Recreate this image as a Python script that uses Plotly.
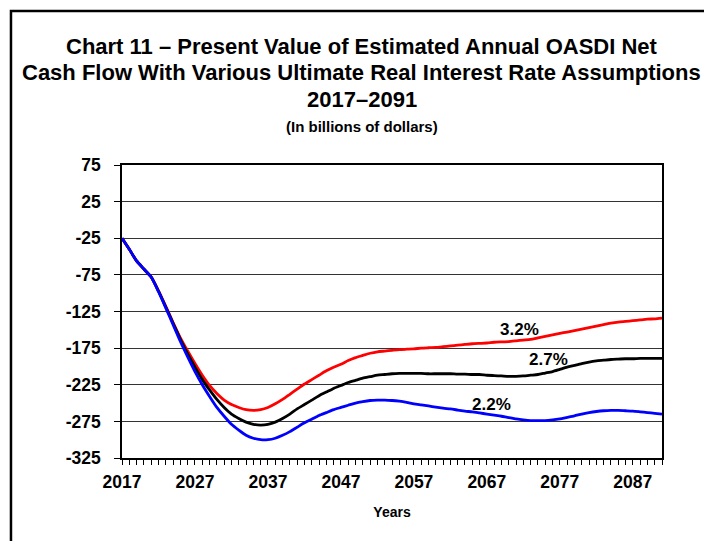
import plotly.graph_objects as go

years = list(range(2017, 2092))

rate_32 = [
    -25, -40, -56, -67, -78, -97, -118, -140, -161, -179,
    -196, -212, -226, -237, -246, -252, -256, -259, -260, -259,
    -256, -251, -245, -238, -231, -224, -218, -212, -206, -201,
    -197, -192, -188, -185, -182, -180, -179, -178, -177, -176.5,
    -176, -175, -174.5, -174, -173, -172, -171, -170, -169, -168.5,
    -168, -167, -166.5, -166, -165, -164, -163, -161, -159, -157,
    -155, -153, -151, -149, -147, -145, -143, -141, -139.5, -138.5,
    -137.5, -136.5, -135.5, -135, -134,
]

rate_27 = [
    -25, -40, -56, -67, -78, -97, -119, -141, -163, -183,
    -201, -218, -232, -245, -256, -265, -271, -276, -279, -280,
    -279, -276, -271, -265, -258, -252, -246, -240, -235, -230,
    -226, -222, -219, -216, -214, -212, -211, -210, -209.5, -209.5,
    -209.5, -209.5, -210, -210, -210, -210, -210.5, -210.5, -211, -211,
    -212, -212.5, -213, -213.5, -213.5, -213, -212, -211, -209, -207,
    -204, -201, -198.5, -196, -194, -192.5, -191.5, -190.5, -190, -189.5,
    -189.5, -189, -189, -189, -189,
]

rate_22 = [
    -25, -40, -56, -67, -78, -98, -120, -143, -166, -187,
    -207, -225, -241, -256, -268, -279, -287, -294, -298, -300,
    -300, -298, -294, -289, -283, -277, -272, -267, -263, -259,
    -256, -253, -250, -248, -246.5, -246, -246, -246.5, -247.5, -249,
    -251, -252.5, -254, -255.5, -257, -258, -259.5, -261, -262, -263.5,
    -265, -266.5, -268, -270, -271.5, -273, -274, -274, -274, -273,
    -271.5, -269.5, -267.5, -265, -263, -261.5, -260.5, -260, -260, -260.5,
    -261, -262, -263, -264, -265,
]

series = [
    ("3.2%", rate_32, "#FF0000", 2071.5, -150),
    ("2.7%", rate_27, "#000000", 2075.4, -191),
    ("2.2%", rate_22, "#0000FF", 2067.7, -252),
]

x_ticks = list(range(2017, 2091, 10))
y_ticks = list(range(75, -326, -50))

FONT = "Liberation Sans, Arial, sans-serif"

fig = go.Figure()

for name, vals, color, lx, ly in series:
    fig.add_trace(
        go.Scatter(
            x=years,
            y=vals,
            mode="lines",
            name=name,
            line=dict(color=color, width=2.8, shape="spline", smoothing=0.6),
        )
    )
    fig.add_annotation(
        x=lx, y=ly, text=f"<b>{name}</b>", showarrow=False,
        font=dict(size=17, color="#000000", family=FONT),
    )

title_lines = [
    ("Chart 11 \u2013 Present Value of Estimated Annual OASDI Net", 22, 1.403),
    ("Cash Flow With Various Ultimate Real Interest Rate Assumptions", 22, 1.314),
    ("2017\u20132091", 22, 1.222),
]
for text, size, yy in title_lines:
    fig.add_annotation(
        x=0.444, y=yy, xref="paper", yref="paper", text=f"<b>{text}</b>",
        showarrow=False, font=dict(size=size, color="#000000", family=FONT),
        yanchor="middle",
    )
fig.add_annotation(
    x=0.444, y=1.133, xref="paper", yref="paper",
    text="<b>(In billions of dollars)</b>", showarrow=False,
    font=dict(size=15, color="#000000", family=FONT), yanchor="middle",
)

# outer frame (runs off the right and bottom edges, as in the source)
fig.add_shape(
    type="rect", xref="paper", yref="paper",
    x0=-0.2056, x1=1.3, y0=-0.5, y1=1.5256,
    line=dict(color="#000000", width=2.5), layer="below",
)

# the page body adds 8px, so the margins are offset by that amount
fig.update_layout(
    width=712,
    height=541,
    margin=dict(l=114, r=58, t=157, b=91),
    paper_bgcolor="#FFFFFF",
    plot_bgcolor="#FFFFFF",
    showlegend=False,
    font=dict(family=FONT, color="#000000"),
    xaxis=dict(
        range=[2017, 2091],
        tickvals=x_ticks,
        ticktext=[f"<b>{t}</b>" for t in x_ticks],
        tickfont=dict(size=17.5, family=FONT),
        ticks="outside",
        ticklen=5,
        tickcolor="#000000",
        ticklabelstandoff=2,
        minor=dict(dtick=1, tick0=2017, ticks="outside", ticklen=5, tickcolor="#000000"),
        showgrid=False,
        showline=True,
        linecolor="#000000",
        linewidth=1.5,
        mirror=True,
        title=dict(text="<b>Years</b>", font=dict(size=14, family=FONT), standoff=16),
        zeroline=False,
    ),
    yaxis=dict(
        range=[-325, 75],
        tickvals=y_ticks,
        ticktext=[f"<b>{t}</b>" for t in y_ticks],
        tickfont=dict(size=17.5, family=FONT),
        ticks="outside",
        ticklen=6,
        tickcolor="#000000",
        ticklabelstandoff=10,
        showgrid=True,
        gridcolor="#333333",
        gridwidth=1,
        showline=True,
        linecolor="#000000",
        linewidth=1.5,
        mirror=True,
        zeroline=False,
    ),
)

fig.write_html("out.html")
